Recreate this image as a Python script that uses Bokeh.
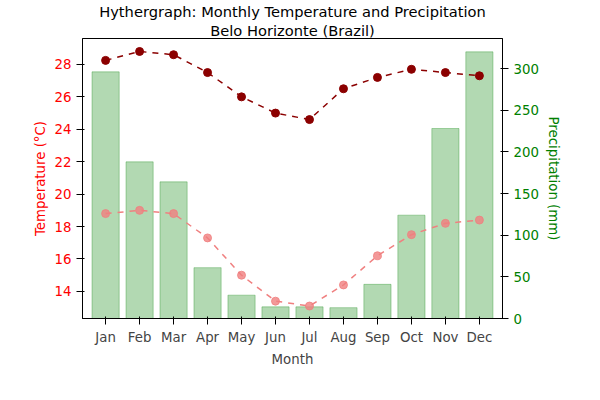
from bokeh.plotting import figure
from bokeh.models import Range1d, LinearAxis, Legend, LegendItem, Title, FactorRange
from bokeh.embed import file_html
from bokeh.resources import INLINE

months = ["Jan", "Feb", "Mar", "Apr", "May", "Jun", "Jul", "Aug", "Sep", "Oct", "Nov", "Dec"]
max_temp = [28.25, 28.8, 28.6, 27.5, 26.0, 25.0, 24.6, 26.5, 27.2, 27.7, 27.5, 27.3]
min_temp = [18.8, 19.0, 18.8, 17.3, 15.0, 13.4, 13.1, 14.4, 16.2, 17.5, 18.2, 18.4]
precip = [296, 188, 164, 61, 28, 14, 14, 13, 41, 124, 228, 320]

font = "DejaVu Sans"

p = figure(frame_width=420, frame_height=280, x_range=FactorRange(*months, range_padding=0.03),
           y_range=Range1d(12.33, 29.6), output_backend="svg", toolbar_location=None,
           min_border_left=82, min_border_right=80, min_border_top=0, min_border_bottom=0)
p.extra_y_ranges = {"precip": Range1d(0, 336)}
p.xgrid.visible = False
p.ygrid.visible = False
p.outline_line_color = "black"

p.add_layout(Title(text="Belo Horizonte (Brazil)", align="center", text_font=font,
                   text_font_size="11pt", text_font_style="normal", text_color="black",
                   standoff=0), "above")
p.add_layout(Title(text="Hythergraph: Monthly Temperature and Precipitation", align="center",
                   text_font=font, text_font_size="11pt", text_font_style="normal", text_color="black",
                   standoff=0), "above")

bars = p.vbar(x=months, top=precip, width=0.8, color="green", alpha=0.3, y_range_name="precip")
lmax = p.line(months, max_temp, color="darkred", line_width=1.5, line_dash="dashed")
cmax = p.scatter(months, max_temp, color="darkred", size=8)
lmin = p.line(months, min_temp, color="lightcoral", line_width=1.5, line_dash="dashed")
cmin = p.scatter(months, min_temp, color="lightcoral", size=8, alpha=0.8)

p.yaxis.axis_label = "Temperature (°C)"
p.yaxis.axis_label_text_color = "red"
p.yaxis.major_label_text_color = "red"
p.yaxis.ticker = [14, 16, 18, 20, 22, 24, 26, 28]
p.xaxis.axis_label = "Month"

right = LinearAxis(y_range_name="precip", axis_label="Precipitation (mm)", ticker=[0, 50, 100, 150, 200, 250, 300],
                   axis_label_text_color="green", major_label_text_color="green")
p.add_layout(right, "right")

for ax in [p.xaxis[0], p.yaxis[0], right]:
    ax.axis_label_text_font = font
    ax.axis_label_text_font_style = "normal"
    ax.axis_label_text_font_size = "10pt"
    ax.major_label_text_font = font
    ax.major_label_text_font_size = "10pt"
    ax.minor_tick_line_color = None
    ax.axis_label_standoff = 4

legend = Legend(items=[LegendItem(label="Max Temperature (°C)", renderers=[lmax, cmax]),
                       LegendItem(label="Min Temperature (°C)", renderers=[lmin, cmin]),
                       LegendItem(label="Precipitation (mm)", renderers=[bars])],
                orientation="horizontal", label_text_font=font, label_text_font_size="7.5pt",
                glyph_height=12, glyph_width=28, spacing=20, padding=3, margin=8,
                border_line_color="#cccccc", location="center")
p.add_layout(legend, "below")

open("out.html", "w").write(file_html(p, INLINE))
